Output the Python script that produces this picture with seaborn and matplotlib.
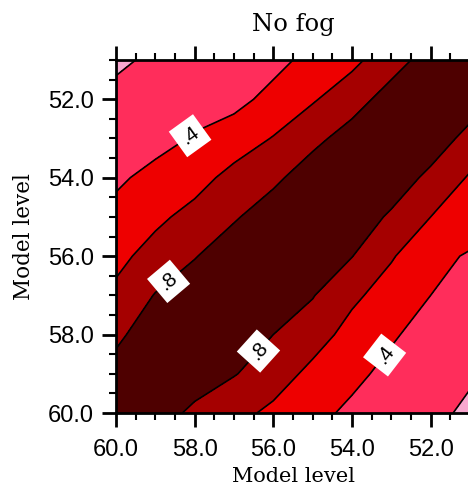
import numpy as np
import pandas as pd
import matplotlib
matplotlib.use("Agg")
import matplotlib.pyplot as plt
from matplotlib.ticker import MultipleLocator, FormatStrFormatter
import seaborn as sns

# Model levels (rows = y level, columns = x level)
model_levels = [51, 52, 53, 54, 55, 56, 57, 58, 59, 60]

# Correlation between model levels, one row per y level
corr_51 = [1.00, 0.88, 0.72, 0.55, 0.46, 0.34, 0.30, 0.26, 0.22, 0.18]
corr_52 = [0.91, 1.00, 0.88, 0.72, 0.58, 0.46, 0.34, 0.30, 0.26, 0.23]
corr_53 = [0.73, 0.92, 1.00, 0.88, 0.75, 0.61, 0.50, 0.42, 0.32, 0.30]
corr_54 = [0.58, 0.75, 0.92, 1.00, 0.90, 0.76, 0.66, 0.53, 0.47, 0.36]
corr_55 = [0.48, 0.60, 0.77, 0.92, 1.00, 0.90, 0.78, 0.66, 0.56, 0.47]
corr_56 = [0.386, 0.44, 0.62, 0.805, 0.92, 1.00, 0.91, 0.79, 0.67, 0.55]
corr_57 = [0.32, 0.40, 0.50, 0.645, 0.81, 0.92, 1.00, 0.91, 0.81, 0.64]
corr_58 = [0.26, 0.30, 0.43, 0.52, 0.70, 0.80, 0.92, 1.00, 0.91, 0.76]
corr_59 = [0.22, 0.27, 0.33, 0.46, 0.54, 0.71, 0.81, 0.92, 1.00, 0.87]
corr_60 = [0.17, 0.24, 0.30, 0.35, 0.47, 0.55, 0.67, 0.75, 0.91, 1.00]

contour_levels = [0.2, 0.4, 0.6, 0.8]
plain_levels = [0.2, 0.6]
labelled_levels = [0.4, 0.8]
fill_colors = ["#F8A8CF", "#FF2D5B", "#EE0000", "#A50000", "#4E0000"]

corr = pd.DataFrame(
    np.vstack([corr_51, corr_52, corr_53, corr_54, corr_55,
               corr_56, corr_57, corr_58, corr_59, corr_60]),
    index=model_levels, columns=model_levels,
)

sns.set_style("ticks")
plt.rcParams["font.family"] = ["Liberation Sans", "DejaVu Sans"]
for key in ["text.color", "axes.labelcolor", "xtick.color", "ytick.color",
            "axes.edgecolor"]:
    plt.rcParams[key] = "black"

W, H = 468, 487
AX_TOP, AX_BOTTOM, AX_LEFT, AX_RIGHT = 60, 413, 116, 470
fig = plt.figure(figsize=(W / 100, H / 100), dpi=100)
ax = fig.add_axes([AX_LEFT / W, 1 - AX_BOTTOM / H,
                   (AX_RIGHT - AX_LEFT) / W, (AX_BOTTOM - AX_TOP) / H])

X, Y = np.meshgrid(corr.columns.values, corr.index.values)
ax.set_xlim(60, 51)
ax.set_ylim(60, 51)

ax.contourf(X, Y, corr.values, levels=[0.0] + contour_levels + [1.01],
            colors=fill_colors)
ax.contour(X, Y, corr.values, levels=plain_levels,
           colors="black", linewidths=1.2)
cs = ax.contour(X, Y, corr.values, levels=labelled_levels,
                colors="black", linewidths=1.2)

label_spots = [(58.1, 52.95), (58.7, 56.6), (56.4, 58.4), (53.2, 58.5)]
texts = ax.clabel(cs, fmt=lambda v: f"{v:.1f}".lstrip("0"),
                  manual=label_spots, inline=True, inline_spacing=6,
                  fontsize=15)
for t in texts:
    t.set_bbox(dict(boxstyle="square,pad=0.3", facecolor="white",
                    edgecolor="none"))

ax.xaxis.set_major_locator(MultipleLocator(2))
ax.yaxis.set_major_locator(MultipleLocator(2))
ax.xaxis.set_minor_locator(MultipleLocator(0.5))
ax.yaxis.set_minor_locator(MultipleLocator(0.5))
ax.xaxis.set_major_formatter(FormatStrFormatter("%.1f"))
ax.yaxis.set_major_formatter(FormatStrFormatter("%.1f"))

ax.tick_params(which="both", direction="out", top=True, right=True,
               color="black", labelcolor="black")
ax.tick_params(which="major", length=10, width=2, labelsize=17)
ax.tick_params(axis="x", which="major", pad=9)
ax.tick_params(axis="y", which="major", pad=6)
ax.tick_params(which="minor", length=5, width=1.5)
for s in ax.spines.values():
    s.set_linewidth(2)
    s.set_color("black")

ax.set_title("No fog", family="DejaVu Serif", fontsize=17.5, pad=21,
             color="black")
ax.set_xlabel("Model level", family="DejaVu Serif", fontsize=15,
              color="black", va="baseline")
ax.xaxis.set_label_coords(0.5, (AX_BOTTOM - 482.5) / (AX_BOTTOM - AX_TOP))
ax.set_ylabel("Model level", family="DejaVu Serif", fontsize=15.5,
              labelpad=9, color="black")

fig.savefig("out.png", dpi=100)
